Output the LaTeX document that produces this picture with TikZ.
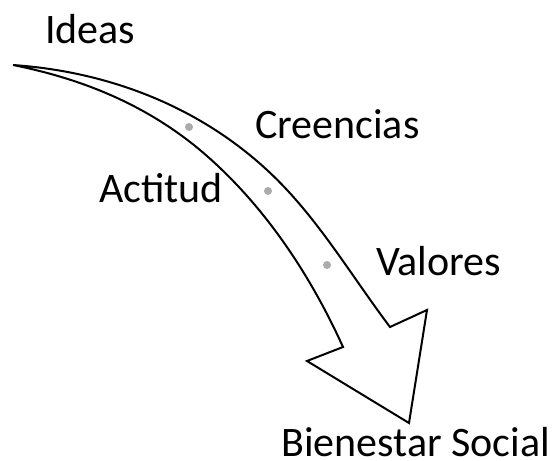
\documentclass[tikz,border=0pt]{standalone}
\usepackage{fontspec}
\setmainfont{Carlito}
\usepackage{tikz}
\usetikzlibrary{positioning}

\begin{document}
\begin{tikzpicture}[x=1pt, y=-1pt,
            etiqueta/.style={anchor=base west, inner sep=0pt, font=\fontsize{42}{50}\selectfont},
            punto/.style={circle, fill=black!33, inner sep=0pt, minimum size=8pt},
            flecha/.style={draw=black, line width=2pt, line join=miter, fill=white}
        ]
        \useasboundingbox (0,0) rectangle (558,461);

        % Flecha
        \draw[flecha] (13,65) .. controls (113,72) and (201,109) .. (267,170)
            .. controls (316,215) and (350,274) .. (390,327)
            -- (427,310) -- (409,423) -- (307,361) -- (343,347)
            .. controls (310,274) and (263,203) .. (200,150)
            .. controls (146,105) and (83,79) .. (13,65)
            -- cycle;

        % Puntos
        \node[punto] (p1) at (189,127) {};
        \node[punto] (p2) at (268,191) {};
        \node[punto] (p3) at (327,265) {};

        % Etiquetas
        \node[etiqueta] (ideas) at (45,43) {Ideas};
        \node[etiqueta] (creencias) at (255,138) {Creencias};
        \node[etiqueta] (actitud) at (99,202) {Actitud};
        \node[etiqueta] (valores) at (376,275) {Valores};
        \node[etiqueta] (bienestar) at (281,456) {Bienestar Social};

    \end{tikzpicture}
\end{document}
